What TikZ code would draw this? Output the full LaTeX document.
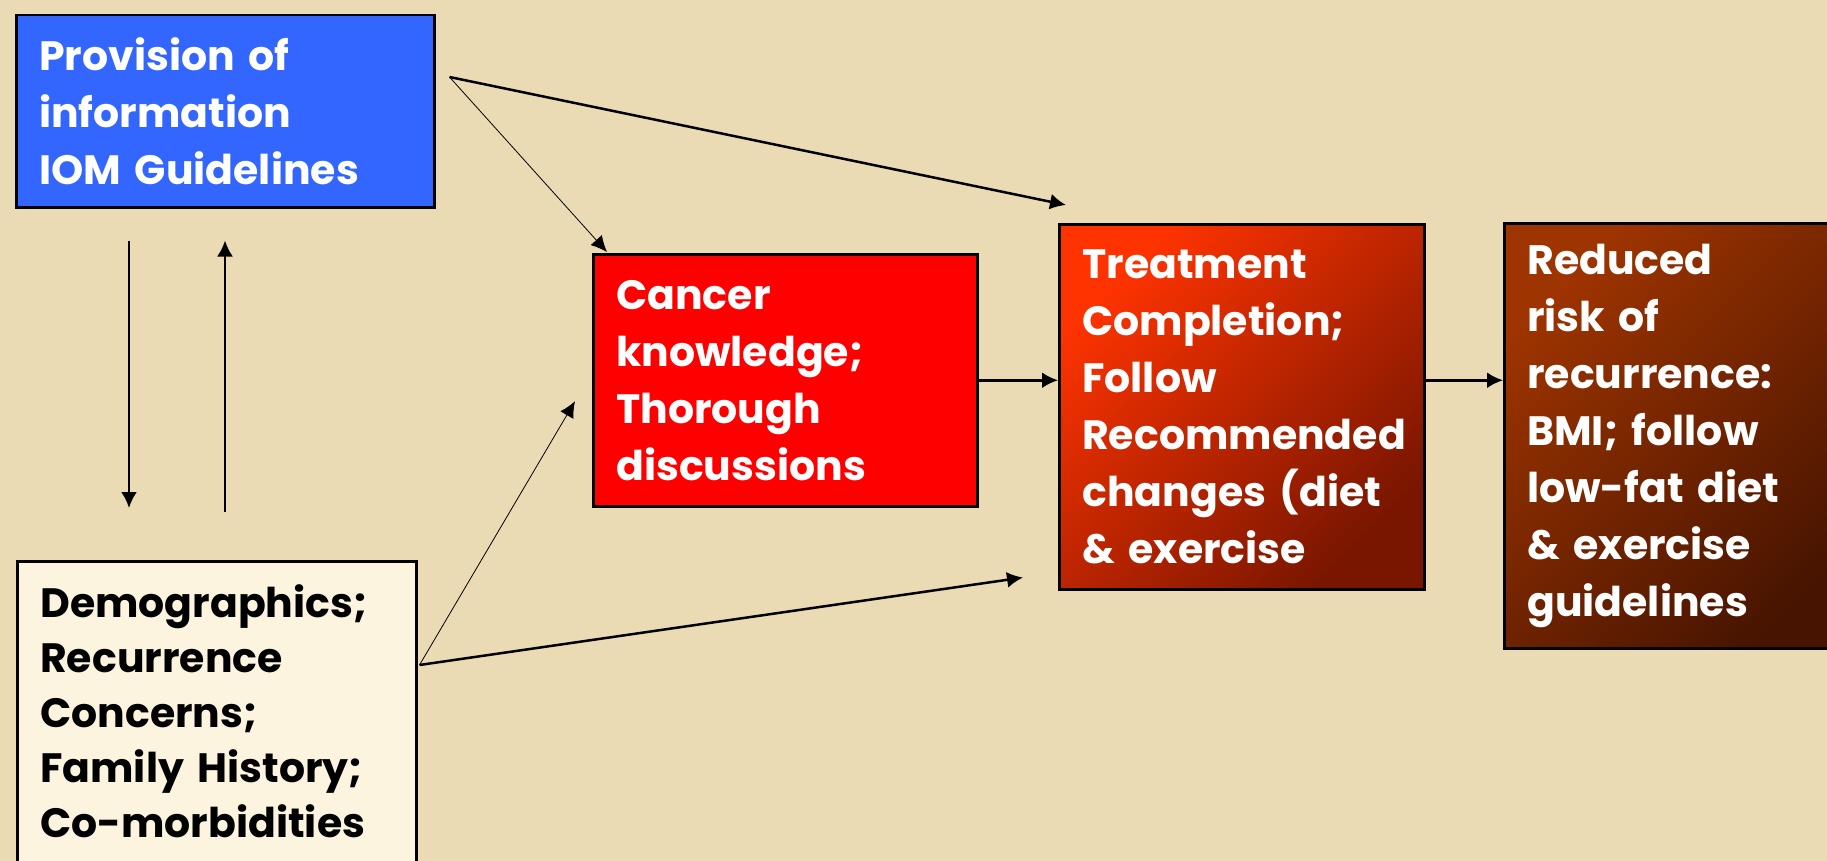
\documentclass[tikz,border=0pt]{standalone}
\usepackage{fontspec}
\setmainfont{Poppins}
\usetikzlibrary{calc, arrows.meta}
\hyphenpenalty=10000
\exhyphenpenalty=10000

\definecolor{parchment}{RGB}{234,219,180}
\definecolor{infoblue}{RGB}{51,102,255}
\definecolor{cream}{RGB}{252,244,222}
\definecolor{flame}{RGB}{255,51,0}
\definecolor{ember}{RGB}{120,22,0}
\definecolor{rust}{RGB}{158,52,0}
\definecolor{umber}{RGB}{70,20,0}

\begin{document}
\begin{tikzpicture}[x=1pt, y=-1pt,
        box/.style={draw=black, line width=2.5pt, anchor=north west, inner xsep=23pt, inner ysep=0pt,
            align=left, text=white, font=\bfseries\fontsize{41}{57}\selectfont},
        link/.style={line width=2.5pt, -{Latex[length=16pt, width=16pt]}},
        hint/.style={line width=0.8pt, -{Latex[length=16pt, width=15pt]}}]
                \fill[parchment] (0,0) rectangle (1827,861);
                \useasboundingbox (0,0) rectangle (1827,861);
                \node[box, fill=infoblue, text width=372pt, minimum height=192pt] (P) at (15,14)
                    {Provision of\\information\\IOM Guidelines};
                \node[box, fill=red, text width=338pt, minimum height=252pt] (K) at (592,253)
                    {Cancer\\knowledge;\\Thorough\\discussions};
                \node[box, top color=flame, bottom color=ember, shading angle=45,
                    text width=319pt, minimum height=365pt] (T) at (1058,223)
                    {Treatment\\Completion;\\Follow\\Recommended\\changes (diet\\\& exercise};
                \node[box, top color=rust, bottom color=umber, shading angle=45,
                    text width=320pt, minimum height=425pt] (R) at (1503,222)
                    {Reduced\\risk of\\recurrence:\\BMI; follow\\low-fat diet\\\& exercise\\guidelines};
                % box runs on past the lower edge
                \node[box, fill=cream, text=black, text width=353pt, minimum height=330pt,
                    font=\bfseries\fontsize{41}{55}\selectfont] (D) at (16,560)
                    {Demographics;\\Recurrence\\Concerns;\\Family History;\\Co-morbidities\\[-25pt]\mbox{}};
                \coordinate (P') at ($(P.north east)+(14,63)$);
                \coordinate (D') at ($(D.north east)+(2,105)$);
                \coordinate (K') at ($(K.north west)+(15,-1)$);
                \coordinate (K'') at ($(K.west)+(-17,21)$);
                \coordinate (T') at ($(T.north west)+(8,-18)$);
                \coordinate (T'') at ($(T.south west)+(-35,-13)$);
                \coordinate (P1) at ($(P.south west)+(114,32)$);
                \coordinate (D1) at ($(D.north west)+(113,-52)$);
                \coordinate (P2) at ($(P.south west)+(210,32)$);
                \coordinate (D2) at ($(D.north west)+(209,-48)$);
                \draw[link] (P1) -- (D1);
                \draw[link] (D2) -- (P2);
                \draw[hint] (P') -- (K');
                \draw[link] (P') -- (T');
                \draw[hint] (D') -- (K'');
                \draw[link] (D') -- (T'');
                \draw[link] (K.east) -- (K.east -| T.west);
                \draw[link] (T.east |- K.east) -- (K.east -| R.west);
            \end{tikzpicture}
\end{document}
